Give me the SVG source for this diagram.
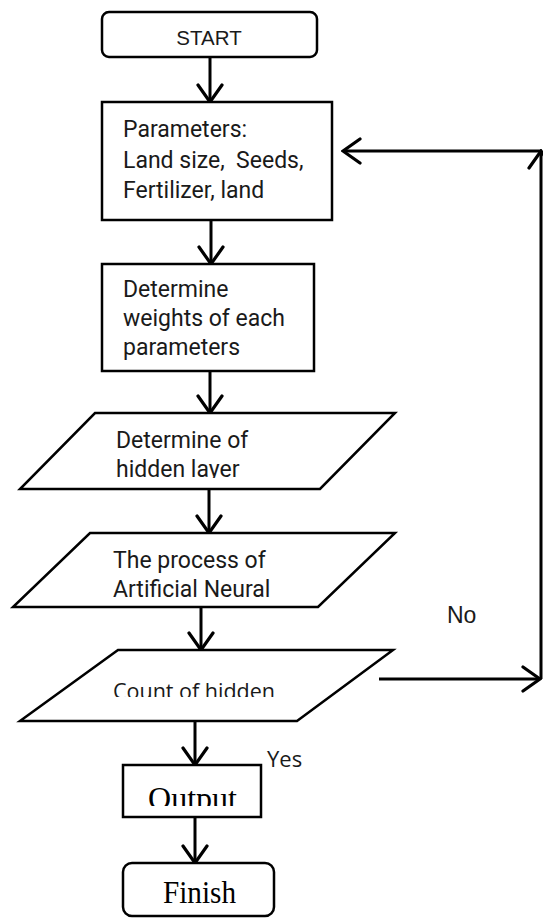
<svg xmlns="http://www.w3.org/2000/svg" width="543" height="918" viewBox="0 0 543 918">
<style>
.box{fill:#fff;stroke:#000;stroke-width:2.5}
.ln{fill:none;stroke:#000;stroke-width:3}
.rb{font-family:Roboto,"Liberation Sans",sans-serif;font-size:23px;fill:#1a1a1a}
.ar{font-family:"Liberation Sans",Arial,sans-serif;fill:#1a1a1a}
.os{font-family:"Open Sans","Liberation Sans",sans-serif;fill:#1a1a1a}
.tm{font-family:"Liberation Serif","Times New Roman",serif;font-size:31px;fill:#000}
</style>
<defs>
<marker id="ah" viewBox="-19 -14 21 28" markerWidth="21" markerHeight="28" refX="0" refY="0" orient="auto" markerUnits="userSpaceOnUse">
<path d="M-17,-12 L0,0 L-17,12" fill="none" stroke="#000" stroke-width="3.2" stroke-linecap="round"/>
</marker>
<clipPath id="c1"><rect x="0" y="400" width="543" height="78"/></clipPath>
<clipPath id="c3"><rect x="0" y="640" width="543" height="57"/></clipPath>
<clipPath id="c4"><rect x="0" y="760" width="543" height="46"/></clipPath>
</defs>
<g id="connectors">
<line class="ln" x1="210" y1="57" x2="210" y2="102" marker-end="url(#ah)"/>
<line class="ln" x1="211" y1="220" x2="211" y2="264" marker-end="url(#ah)"/>
<line class="ln" x1="210" y1="371" x2="210" y2="413" marker-end="url(#ah)"/>
<line class="ln" x1="209" y1="489" x2="209" y2="533" marker-end="url(#ah)"/>
<line class="ln" x1="201" y1="607" x2="201" y2="650" marker-end="url(#ah)"/>
<line class="ln" x1="195" y1="721" x2="195" y2="765" marker-end="url(#ah)"/>
<line class="ln" x1="195" y1="817" x2="195" y2="863" marker-end="url(#ah)"/>
<line class="ln" x1="379" y1="679" x2="540" y2="679" marker-end="url(#ah)"/>
<line class="ln" x1="541" y1="679" x2="541" y2="151" marker-end="url(#ah)"/>
<line class="ln" x1="541" y1="151" x2="343" y2="151" marker-end="url(#ah)"/>
<text class="ar" x="447" y="623" font-size="23">No</text>
<text class="os" x="267" y="767" font-size="22">Yes</text>
</g>
<g id="start">
<rect class="box" x="102" y="12" width="215" height="45" rx="7"/>
<text class="ar" x="209" y="45" font-size="20.5" text-anchor="middle">START</text>
</g>
<g id="parameters">
<rect class="box" x="102" y="102" width="230" height="118"/>
<text class="rb" x="123" y="137">Parameters:</text>
<text class="rb" x="123" y="168" xml:space="preserve">Land size,  Seeds,</text>
<text class="rb" x="123" y="198">Fertilizer, land</text>
</g>
<g id="weights">
<rect class="box" x="102" y="264" width="212" height="107"/>
<text class="rb" x="123" y="297">Determine</text>
<text class="rb" x="123" y="326">weights of each</text>
<text class="rb" x="123" y="355">parameters</text>
</g>
<g id="hidden-layer">
<polygon class="box" points="95,413 395,413 320,489 20,489"/>
<g clip-path="url(#c1)">
<text class="rb" x="116" y="448">Determine of</text>
<text class="rb" x="116" y="477">hidden layer</text>
</g>
</g>
<g id="ann-process">
<polygon class="box" points="90,533 395,533 318,607 13,607"/>
<text class="rb" x="113" y="568">The process of</text>
<text class="rb" x="113" y="597">Artificial Neural</text>
</g>
<g id="count-hidden">
<polygon class="box" points="118,650 393,650 297,721 20,721"/>
<g clip-path="url(#c3)">
<text class="os" x="113" y="699" font-size="21.5">Count of hidden</text>
</g>
</g>
<g id="output">
<rect class="box" x="123" y="765" width="138" height="52"/>
<g clip-path="url(#c4)">
<text class="tm" x="148" y="809" textLength="89" lengthAdjust="spacingAndGlyphs">Output</text>
</g>
</g>
<g id="finish">
<rect class="box" x="123" y="863" width="151" height="53" rx="9"/>
<text class="tm" x="163" y="903" textLength="73" lengthAdjust="spacingAndGlyphs">Finish</text>
</g>
</svg>
